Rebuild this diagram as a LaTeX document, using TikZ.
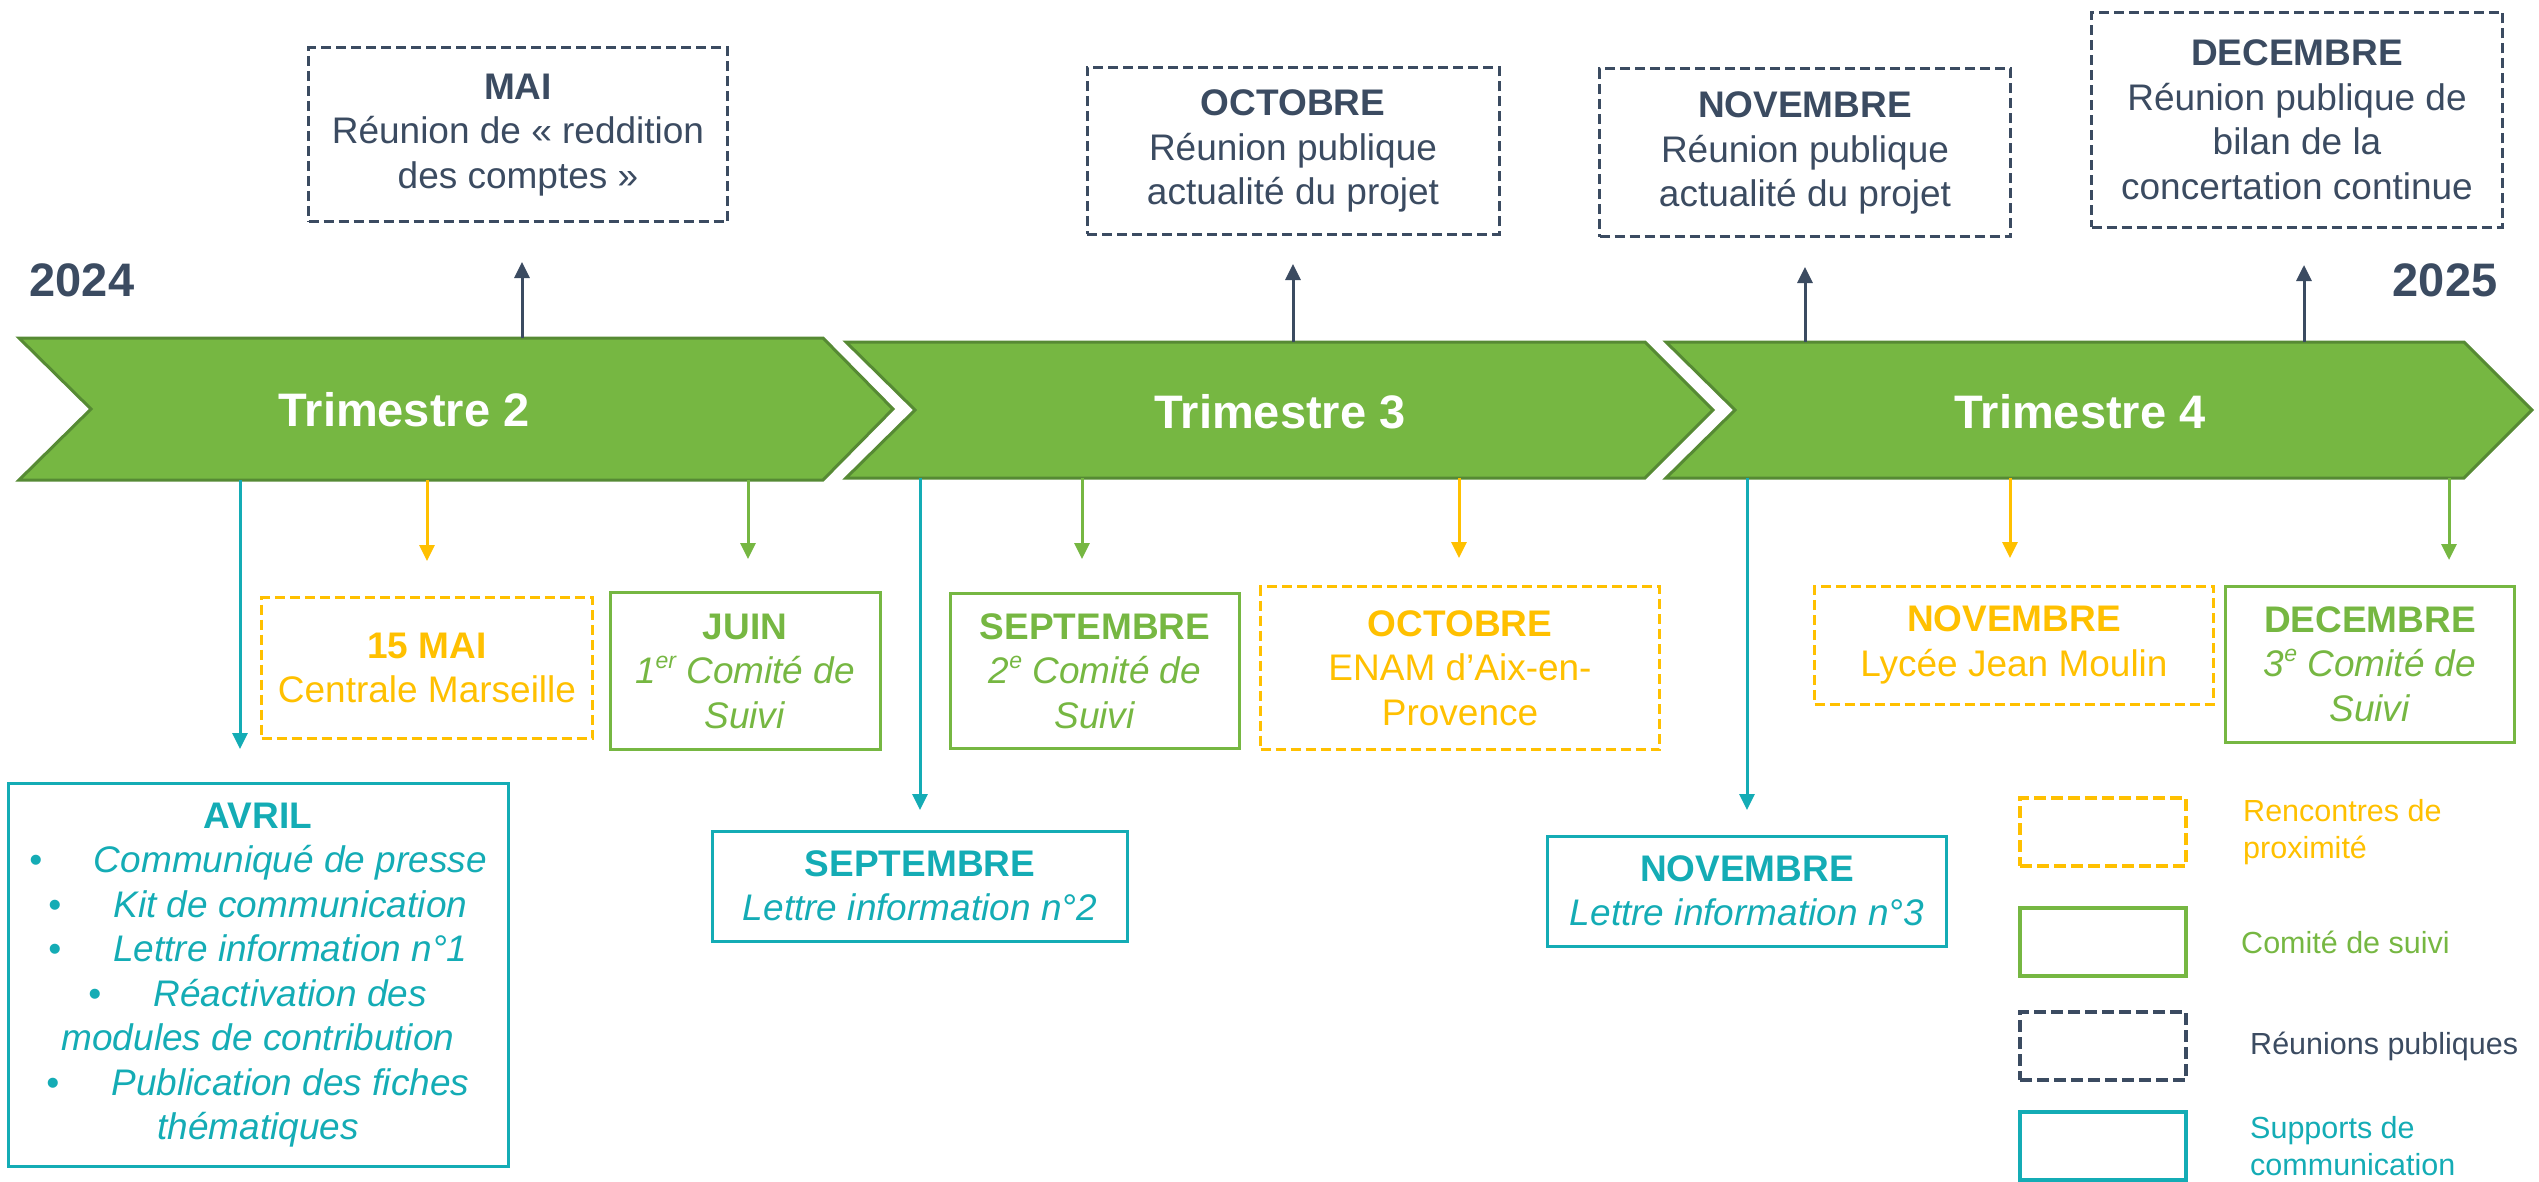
\documentclass[tikz,border=0pt]{standalone}
\usepackage{fontspec}
\setmainfont{Liberation Sans}
\usetikzlibrary{arrows.meta}
\usetikzlibrary{positioning}
\definecolor{slate}{HTML}{3B4B61}
\definecolor{leaf}{HTML}{76B742}
\definecolor{leafdark}{HTML}{568A34}
\definecolor{amber}{HTML}{FFC000}
\definecolor{sea}{HTML}{14ACB5}
\newcommand\supx[1]{\raisebox{0.42em}{\fontsize{23}{23}\selectfont #1}}
\newcommand\puce{\makebox[1.75em][l]{•}}

\begin{document}
\begin{tikzpicture}[x=1pt,y=-1pt,
  cadre/.style={draw,line width=3pt,inner sep=0pt,align=center,font=\fontsize{37}{44.5}\selectfont},
  rencontre/.style={cadre,amber,text=amber,dash pattern=on 10pt off 5pt},
  comite/.style={cadre,leaf,text=leaf},
  reunion/.style={cadre,slate,text=slate,dash pattern=on 10pt off 5pt},
  support/.style={cadre,sea,text=sea},
  trimtxt/.style={text=white,font=\fontsize{47}{47}\selectfont\bfseries},
  annee/.style={text=slate,font=\fontsize{47}{47}\selectfont\bfseries},
  chev/.style={fill=leaf,draw=leafdark,line width=3pt},
  fl/.style={line width=3pt,-{Triangle[length=16pt,width=15pt]}},
  leg/.style={line width=4pt,minimum width=166pt,minimum height=68pt,inner sep=0pt},
  legtxt/.style={anchor=west,align=left,inner sep=0pt,font=\fontsize{30.5}{37}\selectfont}]
\useasboundingbox (0,0) rectangle (2539,1182);

\draw[chev] (19,338) -- (823,338) -- (893,409) -- (823,480) -- (19,480) -- (91,409) -- cycle;
\draw[chev] (846,342) -- (1645,342) -- (1713,410) -- (1645,478) -- (846,478) -- (915,410) -- cycle;
\draw[chev] (1666,342) -- (2464,342) -- (2532,410) -- (2464,478) -- (1666,478) -- (1735,410) -- cycle;
\node[trimtxt] (t2) at (404,410) {Trimestre 2};
\node[trimtxt] (t3) at (1280,412) {Trimestre 3};
\node[trimtxt] (t4) at (2080,412) {Trimestre 4};

\node[annee] (y24) at (82,280) {2024};
\node[annee] (y25) at (2445,280) {2025};

\node[reunion,minimum width=419pt,minimum height=174pt] (mai) at (518,135) {\textbf{MAI}\\Réunion de « reddition\\des comptes »};
\node[reunion,minimum width=412pt,minimum height=167pt] (octH) at (1293,151) {\textbf{OCTOBRE}\\Réunion publique\\actualité du projet};
\node[reunion,minimum width=411pt,minimum height=168pt] (novH) at (1805,153) {\textbf{NOVEMBRE}\\Réunion publique\\actualité du projet};
\node[reunion,minimum width=411pt,minimum height=215pt] (decH) at (2297,120) {\textbf{DECEMBRE}\\Réunion publique de\\bilan de la\\concertation continue};

\node[rencontre,minimum width=331pt,minimum height=141pt] (mai15) at (427,668) {\textbf{15 MAI}\\Centrale Marseille};
\node[comite,minimum width=270pt,minimum height=157pt] (juin) at (745,671) {\textbf{JUIN}\\\textit{1\supx{er} Comité de}\\\textit{Suivi}};
\node[comite,minimum width=289pt,minimum height=155pt] (sepC) at (1095,671) {\textbf{SEPTEMBRE}\\\textit{2\supx{e} Comité de}\\\textit{Suivi}};
\node[rencontre,minimum width=399pt,minimum height=163pt] (octB) at (1460,668) {\textbf{OCTOBRE}\\ENAM d’Aix-en-\\Provence};
\node[rencontre,minimum width=399pt,minimum height=118pt] (novB) at (2014,645) {\textbf{NOVEMBRE}\\Lycée Jean Moulin};
\node[comite,minimum width=289pt,minimum height=156pt] (decB) at (2370,664) {\textbf{DECEMBRE}\\\textit{3\supx{e} Comité de}\\\textit{Suivi}};

\node[support,minimum width=500pt,minimum height=383pt] (avril) at (258,975) {\textbf{AVRIL}\\
  \textit{\puce Communiqué de presse}\\
  \textit{\puce Kit de communication}\\
  \textit{\puce Lettre information n°1}\\
  \textit{\puce Réactivation des}\\
  \textit{modules de contribution}\\
  \textit{\puce Publication des fiches}\\
  \textit{thématiques}};
\node[support,minimum width=415pt,minimum height=110pt] (sepS) at (920,886) {\textbf{SEPTEMBRE}\\\textit{Lettre information n°2}};
\node[support,minimum width=399pt,minimum height=110pt] (novS) at (1747,891) {\textbf{NOVEMBRE}\\\textit{Lettre information n°3}};

\foreach \n/\x/\ya/\yb/\c in {mai/522/338/262/slate, octH/1293/342/264/slate, novH/1805/342/267/slate, decH/2304/342/265/slate,
  avril/240/480/749/sea, mai15/427/480/561/amber, juin/748/480/559/leaf, sepS/920/478/810/sea, sepC/1082/478/559/leaf,
  octB/1459/478/558/amber, novS/1747/478/810/sea, novB/2010/478/558/amber, decB/2449/478/560/leaf}{
  \coordinate (\n-from) at (\x,\ya);
  \coordinate (\n-to) at (\x,\yb);
  \draw[fl,\c] (\n-from) -- (\n-to);
}

\node[leg,draw=amber,dash pattern=on 12pt off 5pt] (lg1) at (2103,832) {};
\node[leg,draw=leaf] (lg2) at (2103,942) {};
\node[leg,draw=slate,dash pattern=on 12pt off 5pt] (lg3) at (2103,1046) {};
\node[leg,draw=sea] (lg4) at (2103,1146) {};
\node[legtxt,text=amber,right=55pt of lg1] (lt1) {Rencontres de\\proximité};
\node[legtxt,text=leaf,right=53pt of lg2] (lt2) {Comité de suivi};
\node[legtxt,text=slate,right=62pt of lg3] (lt3) {Réunions publiques};
\node[legtxt,text=sea,right=62pt of lg4] (lt4) {Supports de\\communication};
\end{tikzpicture}
\end{document}
